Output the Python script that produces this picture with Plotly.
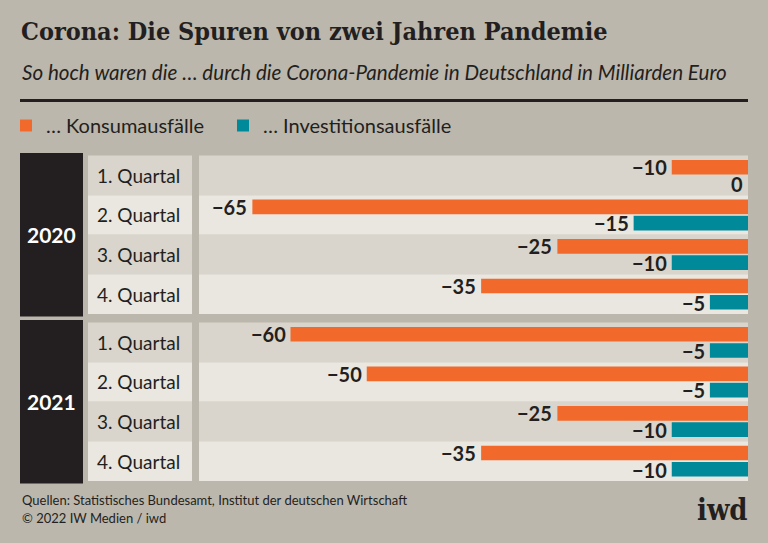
import plotly.graph_objects as go

# ---- data ----
quarters = ["1. Quartal", "2. Quartal", "3. Quartal", "4. Quartal"]
years = ["2020", "2021"]
konsum_2020 = [-10, -65, -25, -35]
invest_2020 = [0, -15, -10, -5]
konsum_2021 = [-60, -50, -25, -35]
invest_2021 = [-5, -5, -10, -10]
series_names = ["… Konsumausfälle", "… Investitionsausfälle"]

title = "Corona: Die Spuren von zwei Jahren Pandemie"
subtitle = "So hoch waren die … durch die Corona-Pandemie in Deutschland in Milliarden Euro"
source = "Quellen: Statistisches Bundesamt, Institut der deutschen Wirtschaft"
copyright_ = "© 2022 IW Medien / iwd"
logo = "iwd"

# ---- style ----
W, H = 768, 543
BG = "#bcb7ad"
DARK = "#231f20"
ORANGE = "#f26a2b"
TEAL = "#008a99"
STRIPE = ["#d9d5cc", "#e9e7e0"]
FONT = "Lato"
SERIF = "DejaVu Serif Condensed, DejaVu Serif"


def px(x):
    return x / W


def py(y):
    return 1 - y / H


fig = go.Figure()

data = [(konsum_2020, invest_2020), (konsum_2021, invest_2021)]
axes = [("x", "y"), ("x2", "y2")]
for i, ((k, v), (xa, ya)) in enumerate(zip(data, axes)):
    fig.add_trace(go.Bar(x=k, y=quarters, orientation="h", name=series_names[0],
                         marker=dict(color=ORANGE, line=dict(width=0)),
                         xaxis=xa, yaxis=ya, showlegend=(i == 0), legend="legend",
                         hoverinfo="skip"))
    fig.add_trace(go.Bar(x=v, y=quarters, orientation="h", name=series_names[1],
                         marker=dict(color=TEAL, line=dict(width=0)),
                         xaxis=xa, yaxis=ya, showlegend=(i == 0), legend="legend2",
                         hoverinfo="skip"))

shapes = []
annotations = []

# rule
shapes.append(dict(type="line", xref="paper", yref="paper", x0=px(20), x1=px(748),
                   y0=py(100.5), y1=py(100.5), line=dict(color=DARK, width=3)))


def fmt(v):
    return f"−{abs(v)}" if v < 0 else str(v)


for yi, ((xa, ya), year, (k, v)) in enumerate(zip(axes, years, data)):
    # year block
    shapes.append(dict(type="rect", xref="paper", yref=f"{ya} domain",
                       x0=px(20), x1=px(83), y0=0, y1=1,
                       fillcolor=DARK, line=dict(width=0), layer="below"))
    annotations.append(dict(text=f"<b>{year}</b>", xref="paper", yref=f"{ya} domain",
                            x=px(51.5), y=0.5, xanchor="center", yanchor="middle",
                            showarrow=False,
                            font=dict(family=FONT, size=21, color="white")))
    for qi, q in enumerate(quarters):
        col = STRIPE[qi % 2]
        for x0, x1 in [(88, 192), (199, 748)]:
            shapes.append(dict(type="rect", xref="paper", yref=ya,
                               x0=px(x0), x1=px(x1), y0=qi - 0.5, y1=qi + 0.5,
                               fillcolor=col, line=dict(width=0), layer="below"))
        annotations.append(dict(text=q, xref="paper", yref=ya, x=px(95), y=q,
                                xanchor="left", yanchor="middle", showarrow=False,
                                font=dict(family=FONT, size=19, color=DARK)))
        for val, shift in [(k[qi], 8.4), (v[qi], -8.4)]:
            annotations.append(dict(text=f"<b>{fmt(val)}</b>", xref=xa, yref=ya,
                                    x=val, y=q, xanchor="right", yanchor="middle",
                                    xshift=-3, yshift=shift, showarrow=False,
                                    font=dict(family=FONT, size=20, color=DARK)))

# titles and footer
annotations += [
    dict(text=f"<b>{title}</b>", xref="paper", yref="paper", x=px(19), y=py(32),
         xanchor="left", yanchor="middle", showarrow=False,
         font=dict(family=SERIF, size=25, color=DARK)),
    dict(text=f"<i>{subtitle}</i>", xref="paper", yref="paper", x=px(20), y=py(72),
         xanchor="left", yanchor="middle", showarrow=False,
         font=dict(family=FONT, size=20.6, color=DARK)),
    dict(text=source, xref="paper", yref="paper", x=px(20), y=py(500),
         xanchor="left", yanchor="middle", showarrow=False,
         font=dict(family=FONT, size=13, color=DARK)),
    dict(text=copyright_, xref="paper", yref="paper", x=px(20), y=py(518),
         xanchor="left", yanchor="middle", showarrow=False,
         font=dict(family=FONT, size=13, color=DARK)),
    dict(text=f"<b>{logo}</b>", xref="paper", yref="paper", x=px(750), y=py(510),
         xanchor="right", yanchor="middle", showarrow=False,
         font=dict(family=SERIF, size=29, color=DARK)),
]

xaxis_common = dict(range=[-72, 0], domain=[px(199), px(748)], showgrid=False,
                    zeroline=False, showticklabels=False, showline=False, fixedrange=True)
yaxis_common = dict(type="category", categoryorder="array", categoryarray=quarters,
                    autorange="reversed", showgrid=False, zeroline=False,
                    showticklabels=False, showline=False, fixedrange=True)

legend_common = dict(orientation="h", xanchor="left", yanchor="top",
                     bgcolor="rgba(0,0,0,0)",
                     font=dict(family=FONT, size=20, color=DARK))

fig.update_layout(
    width=W, height=H,
    margin=dict(l=0, r=0, t=0, b=0),
    paper_bgcolor=BG, plot_bgcolor="rgba(0,0,0,0)",
    barmode="group", bargap=0.18, bargroupgap=0.1,
    xaxis=dict(anchor="y", **xaxis_common),
    xaxis2=dict(anchor="y2", **xaxis_common),
    yaxis=dict(anchor="x", domain=[py(316.5), py(153)], **yaxis_common),
    yaxis2=dict(anchor="x2", domain=[py(483.5), py(320)], **yaxis_common),
    shapes=shapes, annotations=annotations,
    legend=dict(x=px(6), y=py(106), **legend_common),
    legend2=dict(x=px(223), y=py(106), **legend_common),
    showlegend=True,
)

fig.write_html("out.html",
               config={"displayModeBar": False},
               post_script="document.body.style.margin='0';"
                           "document.body.style.overflow='hidden';")
